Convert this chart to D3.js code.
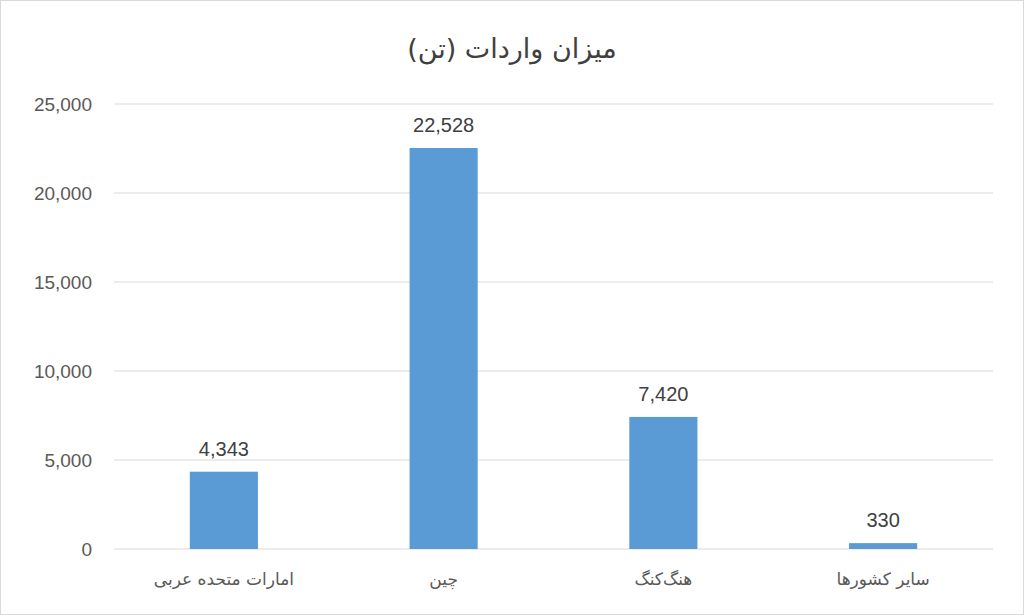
<!DOCTYPE html><html><head><meta charset="utf-8"><script src="https://cdn.jsdelivr.net/npm/d3@7"></script>
<style>body{margin:0;background:#fff}</style></head><body><svg id="c" width="1024" height="615"></svg>
<script>
const categories=["امارات متحده عربی","چین","هنگ‌کنگ","سایر کشورها"];
const values=[4343,22528,7420,330];
const ticks=[0,5000,10000,15000,20000,25000];
const svg=d3.select("#c");
svg.append("rect").attr("x",0.5).attr("y",0.5).attr("width",1023).attr("height",614).attr("fill","#fff").attr("stroke","#d9d9d9");
const x=d3.scaleBand().domain(categories).range([114,993]).paddingInner(0.69).paddingOuter(0.345);
const y=d3.scaleLinear().domain([0,25000]).range([549,104]);
const f=d3.format(",");
svg.append("g").selectAll("line").data(ticks).join("line").attr("x1",114).attr("x2",993).attr("y1",d=>y(d)).attr("y2",d=>y(d)).attr("stroke","#d9d9d9");
svg.append("g").selectAll("text").data(ticks).join("text").attr("x",92).attr("y",d=>y(d)+7).attr("text-anchor","end").attr("font-family","Liberation Sans, Arial").attr("font-size",19).attr("fill","#595959").text(d=>f(d));
svg.append("g").selectAll("rect").data(values).join("rect").attr("x",(d,i)=>x(categories[i])).attr("width",x.bandwidth()).attr("y",d=>y(d)).attr("height",d=>y(0)-y(d)).attr("fill","#5b9bd5");
svg.append("g").selectAll("text").data(values).join("text").attr("x",(d,i)=>x(categories[i])+x.bandwidth()/2).attr("y",d=>y(d)-16).attr("text-anchor","middle").attr("font-family","Liberation Sans, Arial").attr("font-size",20).attr("fill","#404040").text(d=>f(d));
svg.append("g").selectAll("text").data(categories).join("text").attr("x",d=>x(d)+x.bandwidth()/2).attr("y",585).attr("text-anchor","middle").attr("direction","rtl").attr("font-family","DejaVu Sans").attr("font-size",17).attr("fill","#595959").text(d=>d);
svg.append("text").attr("x",512).attr("y",58).attr("text-anchor","middle").attr("direction","rtl").attr("font-family","DejaVu Sans").attr("font-size",27).attr("fill","#404040").text("میزان واردات (تن)");
</script></body></html>
